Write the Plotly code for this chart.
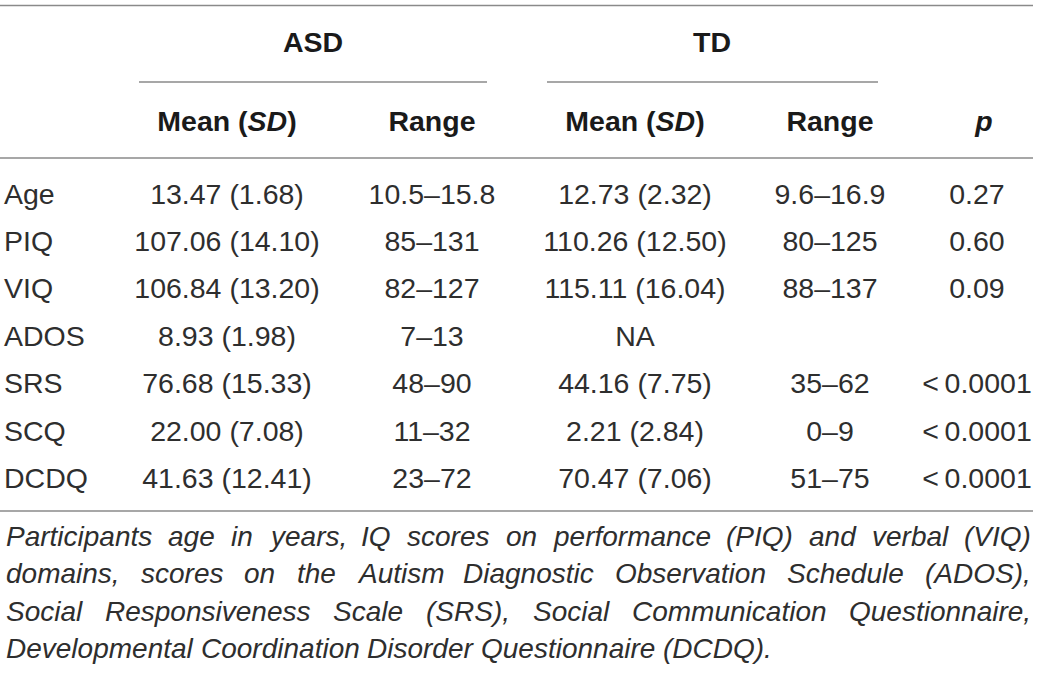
import plotly.graph_objects as go

# table contents
row_labels = ["Age", "PIQ", "VIQ", "ADOS", "SRS", "SCQ", "DCDQ"]
asd_mean_sd = ["13.47 (1.68)", "107.06 (14.10)", "106.84 (13.20)", "8.93 (1.98)",
               "76.68 (15.33)", "22.00 (7.08)", "41.63 (12.41)"]
asd_range = ["10.5–15.8", "85–131", "82–127", "7–13", "48–90", "11–32", "23–72"]
td_mean_sd = ["12.73 (2.32)", "110.26 (12.50)", "115.11 (16.04)", "NA",
              "44.16 (7.75)", "2.21 (2.84)", "70.47 (7.06)"]
td_range = ["9.6–16.9", "80–125", "88–137", "", "35–62", "0–9", "51–75"]
p_values = ["0.27", "0.60", "0.09", "", "&lt;\u20090.0001", "&lt;\u20090.0001", "&lt;\u20090.0001"]

group_headers = ["ASD", "TD"]
sub_headers = ["<b>Mean (<i>SD</i>)</b>", "<b>Range</b>", "<b>Mean (<i>SD</i>)</b>",
               "<b>Range</b>", "<b><i>p</i></b>"]

caption_lines = [
    "Participants age in years, IQ scores on performance (PIQ) and verbal (VIQ)",
    "domains, scores on the Autism Diagnostic Observation Schedule (ADOS),",
    "Social Responsiveness Scale (SRS), Social Communication Questionnaire,",
    "Developmental Coordination Disorder Questionnaire (DCDQ).",
]

W, H = 1040, 674
FONT = "Liberation Sans, Arial, sans-serif"
INK = "#2e2e2e"
RULE = "#8a8a8a"
BODY_SIZE = 28.5

col_x = [227, 432, 635, 830, 977]
group_x = [313, 712]
group_spans = [(139, 487), (547, 878)]
row_y0, row_step = 196.5, 47.4
row_y = [row_y0 + i * row_step for i in range(len(row_labels))]

fig = go.Figure()

# body cells
for x, col in zip(col_x, [asd_mean_sd, asd_range, td_mean_sd, td_range, p_values]):
    fig.add_trace(go.Scatter(
        x=[x] * len(col), y=row_y, text=col, mode="text",
        textposition="middle center", cliponaxis=False,
        textfont=dict(family=FONT, size=BODY_SIZE, color=INK),
        hoverinfo="skip",
    ))

# row labels
fig.add_trace(go.Scatter(
    x=[4] * len(row_labels), y=row_y, text=row_labels, mode="text",
    textposition="middle right", cliponaxis=False,
    textfont=dict(family=FONT, size=BODY_SIZE, color=INK),
    hoverinfo="skip",
))

# headers
fig.add_trace(go.Scatter(
    x=group_x, y=[45, 45], text=[f"<b>{g}</b>" for g in group_headers], mode="text",
    cliponaxis=False,
    textfont=dict(family=FONT, size=BODY_SIZE, color="#1a1a1a"), hoverinfo="skip",
))
fig.add_trace(go.Scatter(
    x=col_x[:4] + [984], y=[124] * 5, text=sub_headers, mode="text",
    cliponaxis=False,
    textfont=dict(family=FONT, size=BODY_SIZE, color="#1a1a1a"), hoverinfo="skip",
))

# rules
for y in [5.5, 158, 511]:
    fig.add_shape(type="line", x0=0, x1=1033, y0=y, y1=y, line=dict(color=RULE, width=1.5))
for x0, x1 in group_spans:
    fig.add_shape(type="line", x0=x0, x1=x1, y0=82, y1=82, line=dict(color=RULE, width=1.5))

# caption, justified word by word using Arial advance widths
ARIAL = {
    " ": 278, "(": 333, ")": 333, ",": 278, ".": 278,
    "a": 556, "b": 556, "c": 500, "d": 556, "e": 556, "f": 278, "g": 556, "h": 556,
    "i": 222, "j": 222, "k": 500, "l": 222, "m": 833, "n": 556, "o": 556, "p": 556,
    "q": 556, "r": 333, "s": 500, "t": 278, "u": 556, "v": 500, "w": 722, "x": 500,
    "y": 500, "z": 500,
    "A": 667, "B": 667, "C": 722, "D": 722, "E": 667, "F": 611, "G": 778, "H": 722,
    "I": 278, "J": 500, "K": 667, "L": 556, "M": 833, "N": 722, "O": 778, "P": 667,
    "Q": 778, "R": 722, "S": 667, "T": 611, "U": 722, "V": 667, "W": 944, "X": 667,
    "Y": 667, "Z": 611,
}
cap_size = 28
left, right = 6, 1031


def text_width(s, size):
    return sum(ARIAL.get(c, 556) for c in s) / 1000 * size


cap_y0, cap_step = 536, 37.5
for i, line in enumerate(caption_lines):
    words = line.split(" ")
    widths = [text_width(w, cap_size) for w in words]
    last = i == len(caption_lines) - 1
    if last or len(words) == 1:
        gap = text_width(" ", cap_size)
    else:
        gap = (right - left - sum(widths)) / (len(words) - 1)
    x = left
    for w, wd in zip(words, widths):
        fig.add_annotation(
            x=x, y=cap_y0 + i * cap_step, text=f"<i>{w}</i>", showarrow=False,
            xanchor="left", yanchor="middle", borderpad=0, borderwidth=0,
            font=dict(family=FONT, size=cap_size, color=INK),
        )
        x += wd + gap

fig.update_xaxes(range=[0, W], visible=False, fixedrange=True)
fig.update_yaxes(range=[H, 0], visible=False, fixedrange=True)
fig.update_layout(
    width=W, height=H,
    margin=dict(l=0, r=0, t=0, b=0),
    plot_bgcolor="white", paper_bgcolor="white",
    showlegend=False,
)

# drop the default page margin so the figure sits at the window origin
fig.write_html("out.html", config={"displayModeBar": False},
               post_script="document.body.style.margin='0';")
